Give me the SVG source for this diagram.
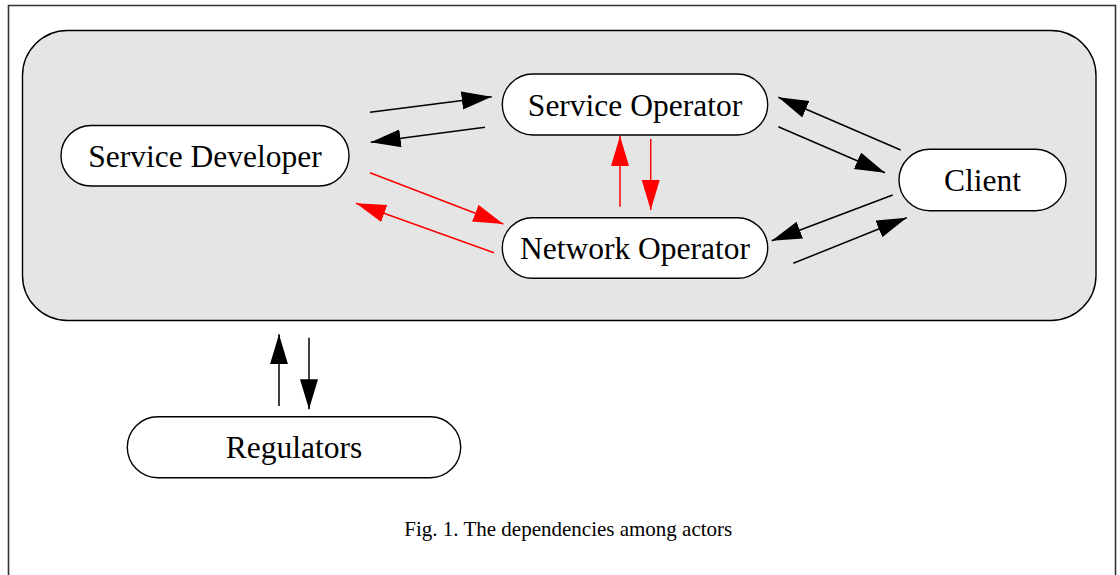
<svg xmlns="http://www.w3.org/2000/svg" width="1120" height="575" viewBox="0 0 1120 575">
<style>
.node rect{fill:#fff;stroke:#000;stroke-width:1.4}
.node text{font-family:"Liberation Serif","Times New Roman",serif;font-size:31.5px;text-anchor:middle;fill:#000}
.blk{stroke:#000;stroke-width:1.5;fill:none;marker-end:url(#ab)}
.red{stroke:#f00;stroke-width:1.5;fill:none;marker-end:url(#ar)}
</style>
<defs>
<marker id="ab" markerUnits="userSpaceOnUse" markerWidth="32" markerHeight="20" refX="30" refY="9" orient="auto"><path d="M0,0 L30,9 L0,18 z" fill="#000"/></marker>
<marker id="ar" markerUnits="userSpaceOnUse" markerWidth="32" markerHeight="20" refX="30" refY="9" orient="auto"><path d="M0,0 L30,9 L0,18 z" fill="#f00"/></marker>
</defs>
<rect width="1120" height="575" fill="#fff"/>
<path d="M8.5,580 V5.5 H1115.5 V580" fill="none" stroke="#333" stroke-width="1.6"/>
<rect id="container" x="22.5" y="30.5" width="1073.5" height="290" rx="45" ry="45" fill="#e5e5e5" stroke="#000" stroke-width="1.4"/>
<g id="connectors">
<line class="blk" x1="370" y1="112.3" x2="491.7" y2="96.7"/>
<line class="blk" x1="485" y1="127.3" x2="370.7" y2="142.3"/>
<line class="red" x1="370" y1="172.7" x2="503.3" y2="224"/>
<line class="red" x1="494" y1="252.7" x2="356" y2="203.3"/>
<line class="red" x1="620" y1="206.7" x2="620" y2="136"/>
<line class="red" x1="650.7" y1="139" x2="650.7" y2="210"/>
<line class="blk" x1="900.7" y1="150" x2="778.3" y2="97.3"/>
<line class="blk" x1="778.3" y1="126.7" x2="885" y2="172.7"/>
<line class="blk" x1="892.7" y1="195" x2="771.7" y2="240.7"/>
<line class="blk" x1="793.3" y1="263.3" x2="906.7" y2="217.7"/>
<line class="blk" x1="279" y1="406" x2="279" y2="334.3"/>
<line class="blk" x1="309" y1="337.7" x2="309" y2="409.3"/>
</g>
<g id="service-developer" class="node"><rect x="61" y="125.5" width="288" height="60.5" rx="30.25"/><text x="205" y="166.7">Service Developer</text></g>
<g id="service-operator" class="node"><rect x="502.3" y="74" width="265.4" height="61" rx="30.5"/><text x="635" y="116">Service Operator</text></g>
<g id="network-operator" class="node"><rect x="502.3" y="217.7" width="265.4" height="60.6" rx="30.3"/><text x="635" y="259.3">Network Operator</text></g>
<g id="client" class="node"><rect x="899" y="149.3" width="167" height="61.4" rx="30.7"/><text x="982.5" y="190.7">Client</text></g>
<g id="regulators" class="node"><rect x="127.3" y="416.7" width="333.4" height="61" rx="30.5"/><text x="294" y="457.7">Regulators</text></g>
<text x="568.3" y="536" font-family="'Liberation Serif','Times New Roman',serif" font-size="21" text-anchor="middle" fill="#000">Fig. 1. The dependencies among actors</text>
</svg>
